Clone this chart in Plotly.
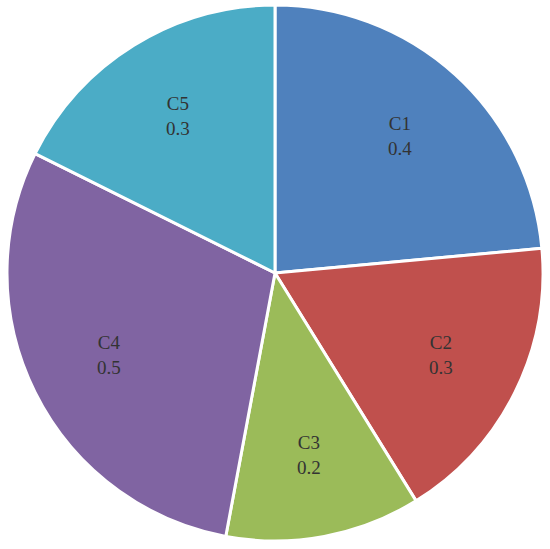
import math
import plotly.graph_objects as go

labels = ["C1", "C2", "C3", "C4", "C5"]
values = [0.4, 0.3, 0.2, 0.5, 0.3]
value_text = ["0.4", "0.3", "0.2", "0.5", "0.3"]
colors = ["#4F81BD", "#C0504D", "#9BBB59", "#8064A2", "#4BACC6"]

fig = go.Figure(go.Pie(
    labels=labels,
    values=values,
    sort=False,
    direction="clockwise",
    rotation=0,
    marker=dict(colors=colors, line=dict(color="white", width=3)),
    textinfo="none",
    hoverinfo="label+value",
))

# data labels placed at mid-angle of each slice, ~0.69 of the radius
total = sum(values)
cum = 0
for lab, v, vt in zip(labels, values, value_text):
    mid = (cum + v / 2) / total * 2 * math.pi
    cum += v
    fig.add_annotation(
        x=0.5 + 0.5 * 0.69 * math.sin(mid),
        y=0.5 + 0.5 * 0.69 * math.cos(mid),
        xref="paper", yref="paper",
        text=f"{lab}<br>{vt}",
        showarrow=False,
        xanchor="center", yanchor="middle",
        font=dict(family="Liberation Serif", size=19, color="#333333"),
    )

fig.update_layout(
    width=550, height=549,
    margin=dict(l=7, r=7, t=5, b=8),
    showlegend=False,
    paper_bgcolor="white",
)

fig.write_html("out.html", config={"displayModeBar": False},
               post_script="document.body.style.margin='0';")
